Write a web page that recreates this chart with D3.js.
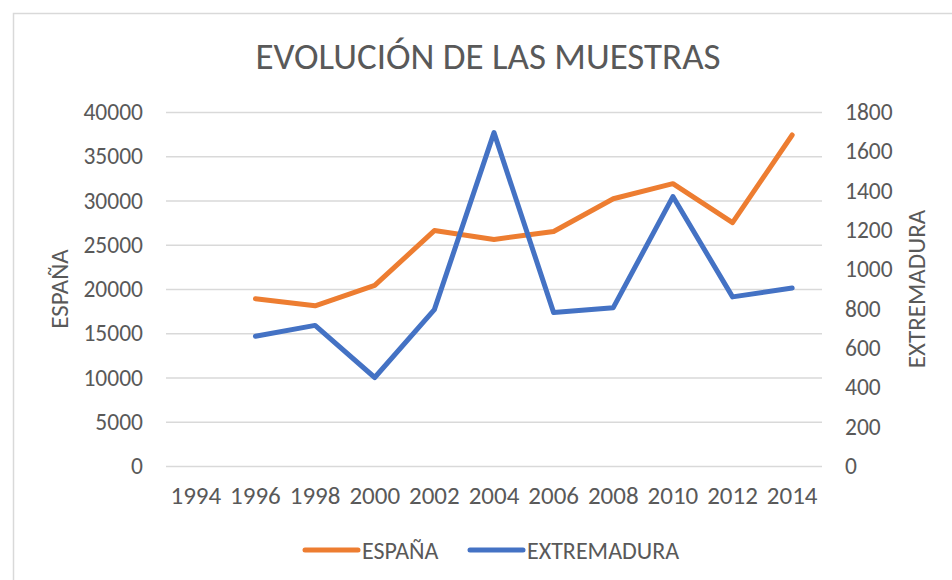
<!DOCTYPE html>
<html>
<head>
<meta charset="utf-8">
<script src="https://cdn.jsdelivr.net/npm/d3@7"></script>
<style>
  body { margin: 0; background: #fff; }
  text { font-family: Calibri, Carlito, "Liberation Sans", sans-serif; fill: #595959; }
</style>
</head>
<body>
<div class="core_div"></div>
<script>
// Data
var years = ["1994", "1996", "1998", "2000", "2002", "2004", "2006", "2008", "2010", "2012", "2014"];
var espana = [null, 18900, 18100, 20400, 26600, 25600, 26500, 30200, 31900, 27500, 37400];
var extremadura = [null, 660, 715, 450, 795, 1695, 780, 805, 1370, 860, 905];
var leftTicks = [0, 5000, 10000, 15000, 20000, 25000, 30000, 35000, 40000];
var rightTicks = [0, 200, 400, 600, 800, 1000, 1200, 1400, 1600, 1800];

var W = 952, H = 580;
var plot = {left: 166, right: 822, top: 112, bottom: 466};

var svg = d3.select(".core_div").append("svg")
    .attr("width", W)
    .attr("height", H);

// chart frame (only top and left edges are visible in the crop)
svg.append("path")
    .attr("d", "M13.5," + H + " V13.5 H" + W)
    .attr("fill", "none")
    .attr("stroke", "#d9d9d9")
    .attr("stroke-width", 1.5);

var x = d3.scaleBand().domain(years).range([plot.left, plot.right]);
var yL = d3.scaleLinear().domain([0, 40000]).range([plot.bottom, plot.top]);
var yR = d3.scaleLinear().domain([0, 1800]).range([plot.bottom, plot.top]);

// gridlines
svg.append("g")
    .attr("transform", "translate(" + plot.left + ",0)")
    .call(d3.axisLeft(yL).tickValues(leftTicks).tickSize(-(plot.right - plot.left)).tickFormat(""))
    .call(function(g) {
      g.select(".domain").remove();
      g.selectAll("line").attr("stroke", "#d9d9d9").attr("stroke-width", 1.5);
    });

// left axis labels
svg.append("g")
    .attr("transform", "translate(" + plot.left + ",0)")
    .call(d3.axisLeft(yL).tickValues(leftTicks).tickSize(0).tickPadding(23).tickFormat(d3.format("d")))
    .call(function(g) {
      g.select(".domain").remove();
      g.selectAll("text").style("font-size", "23.5px").attr("fill", "#595959");
    });

// right axis labels
svg.append("g")
    .attr("transform", "translate(" + plot.right + ",0)")
    .call(d3.axisRight(yR).tickValues(rightTicks).tickSize(0).tickPadding(23).tickFormat(d3.format("d")))
    .call(function(g) {
      g.select(".domain").remove();
      g.selectAll("text").style("font-size", "23.5px").attr("fill", "#595959");
    });

// x axis labels
svg.append("g")
    .attr("transform", "translate(0," + plot.bottom + ")")
    .call(d3.axisBottom(x).tickSize(0).tickPadding(20))
    .call(function(g) {
      g.select(".domain").remove();
      g.selectAll("text").style("font-size", "25px").attr("fill", "#595959");
    });

// lines
function drawLine(values, y, color) {
  var line = d3.line()
      .defined(function(d) { return d != null; })
      .x(function(d, i) { return x(years[i]) + x.bandwidth() / 2; })
      .y(function(d) { return y(d); });
  svg.append("path")
      .datum(values)
      .attr("d", line)
      .attr("fill", "none")
      .attr("stroke", color)
      .attr("stroke-width", 5)
      .attr("stroke-linejoin", "round")
      .attr("stroke-linecap", "round");
}
drawLine(espana, yL, "#ED7D31");
drawLine(extremadura, yR, "#4472C4");

// title
svg.append("text")
    .attr("x", 488)
    .attr("y", 69)
    .attr("text-anchor", "middle")
    .style("font-size", "37px")
    .text("EVOLUCIÓN DE LAS MUESTRAS");

// axis titles
var midY = (plot.top + plot.bottom) / 2;
svg.append("text")
    .attr("transform", "translate(68," + midY + ") rotate(-90)")
    .attr("text-anchor", "middle")
    .style("font-size", "25px")
    .text("ESPAÑA");
svg.append("text")
    .attr("transform", "translate(925," + midY + ") rotate(-90)")
    .attr("text-anchor", "middle")
    .style("font-size", "25px")
    .text("EXTREMADURA");

// legend
var legend = [
  {name: "ESPAÑA", color: "#ED7D31", x: 305},
  {name: "EXTREMADURA", color: "#4472C4", x: 470}
];
var lg = svg.selectAll("g.legend")
    .data(legend)
  .enter().append("g")
    .attr("class", "legend")
    .attr("transform", function(d) { return "translate(" + d.x + ",550)"; });
lg.append("line")
    .attr("x1", 0).attr("x2", 53)
    .attr("stroke", function(d) { return d.color; })
    .attr("stroke-width", 5)
    .attr("stroke-linecap", "round");
lg.append("text")
    .attr("x", 57)
    .attr("dy", "0.36em")
    .style("font-size", "24px")
    .text(function(d) { return d.name; });
</script>
</body>
</html>
